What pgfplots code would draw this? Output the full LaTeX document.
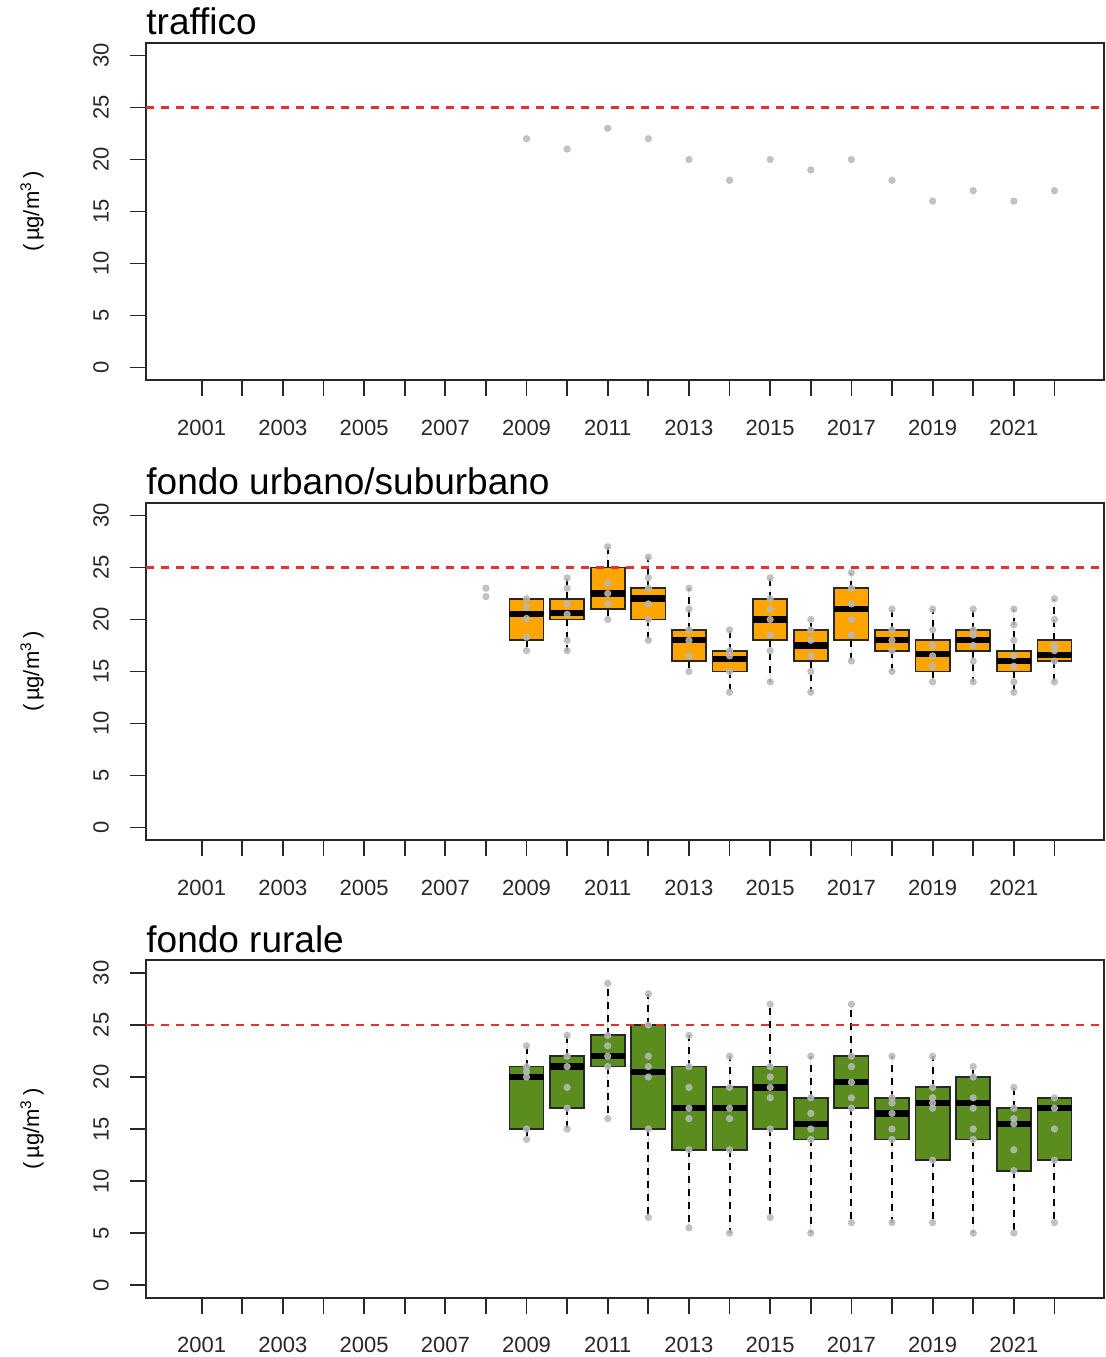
\documentclass[border=0pt]{standalone}
\usepackage{fontspec}
\setmainfont{Liberation Sans}
\usepackage{pgfplots}
\pgfplotsset{compat=1.18}
\usepgfplotslibrary{statistics}
\definecolor{boxorange}{HTML}{FFA500}
\definecolor{boxgreen}{RGB}{90,140,30}
\definecolor{ptgrey}{RGB}{185,185,185}
\definecolor{frame}{RGB}{40,40,40}
\definecolor{limred}{RGB}{225,50,50}
% x positions: 1 = 2001, 2 = 2002, ..., 22 = 2022
\pgfplotsset{
 panel/.style={
  scale only axis, width=479pt, height=168.5pt,
  xmin=-0.37, xmax=23.22, ymin=-1.2, ymax=31.2,
  axis line style={frame, line width=1pt},
  xtick={1,...,22},
  xticklabels={2001,,2003,,2005,,2007,,2009,,2011,,2013,,2015,,2017,,2019,,2021,},
  ytick={0,5,...,30},
  tick pos=left,
  tick align=outside, major tick length=8pt,
  tick style={frame, line width=0.9pt},
  tick label style={font=\fontsize{11}{13}\selectfont, text=frame},
  yticklabel style={rotate=90, anchor=south},
  yticklabel shift=7pt,
  xticklabel shift=8.5pt,
  /pgf/number format/assume math mode=true,
  title style={at={(0,1)}, anchor=base west, yshift=-2pt, inner sep=0pt, font=\fontsize{18.5}{22}\selectfont},
  ylabel style={at={(axis description cs:-0.119,0.5)}, anchor=center, font=\fontsize{11}{13}\selectfont},
  ylabel={(\,µg/m\textsuperscript{3}\,)},
  boxplot/draw direction=y,
  boxplot/box extend=0.84,
  boxplot/whisker extend=0,
  boxplot/every whisker/.style={black, line width=1pt, dash pattern=on 3.5pt off 3pt},
  boxplot/every median/.style={black, line width=3.2pt},
 },
 pts/.style={only marks, mark=*, mark size=1.6pt, color=ptgrey, fill opacity=0.85, draw opacity=0.85},
}
\newcommand{\bx}[7]{\addplot[draw=frame, line width=0.9pt, fill=#7,
  boxplot prepared={draw position=#1, lower whisker=#2, lower quartile=#3,
  median=#4, upper quartile=#5, upper whisker=#6}] coordinates {};}
\newcommand{\limline}{\addplot[limred, line width=1.1pt, dash pattern=on 4pt off 3.5pt] coordinates {(-0.37,25) (23.22,25)};}
\begin{document}
\begin{tikzpicture}
% ---------- traffico
\begin{axis}[panel, at={(73pt,488.5pt)}, anchor=south west, title={traffico}]
\addplot[pts] coordinates {
(9,22) (10,21) (11,23) (12,22) (13,20) (14,18) (15,20)
(16,19) (17,20) (18,18) (19,16) (20,17) (21,16) (22,17)};
\limline
\end{axis}
% ---------- fondo urbano/suburbano
\begin{axis}[panel, at={(73pt,258.5pt)}, anchor=south west, title={fondo urbano/suburbano}]
\bx{9}{17}{18}{20.5}{22}{22}{boxorange}
\bx{10}{17}{20}{20.6}{22}{24}{boxorange}
\bx{11}{20}{21}{22.5}{25}{27}{boxorange}
\bx{12}{18}{20}{22}{23}{26}{boxorange}
\bx{13}{15}{16}{18}{19}{23}{boxorange}
\bx{14}{13}{15}{16.2}{17}{19}{boxorange}
\bx{15}{14}{18}{20}{22}{24}{boxorange}
\bx{16}{13}{16}{17.5}{19}{20}{boxorange}
\bx{17}{16}{18}{21}{23}{24.5}{boxorange}
\bx{18}{15}{17}{18}{19}{21}{boxorange}
\bx{19}{14}{15}{16.7}{18}{21}{boxorange}
\bx{20}{14}{17}{18}{19}{21}{boxorange}
\bx{21}{13}{15}{16}{17}{21}{boxorange}
\bx{22}{14}{16}{16.6}{18}{22}{boxorange}
\addplot[pts] coordinates {
(8,23) (8,22.2)
(9,17) (9,18.3) (9,20.1) (9,21.2) (9,22)
(10,17) (10,18) (10,20.5) (10,21.5) (10,23) (10,24)
(11,20) (11,21.5) (11,22.5) (11,23.5) (11,27)
(12,18) (12,20) (12,21.5) (12,23) (12,24) (12,26)
(13,15) (13,16.5) (13,18) (13,19) (13,21) (13,23)
(14,13) (14,15) (14,16.5) (14,17) (14,19)
(15,14) (15,17) (15,18.5) (15,20) (15,21) (15,22) (15,24)
(16,13) (16,15) (16,16.5) (16,18) (16,19) (16,20)
(17,16) (17,18.5) (17,20) (17,21.5) (17,23) (17,24.5)
(18,15) (18,17) (18,18) (18,19) (18,21)
(19,14) (19,15.5) (19,16.5) (19,17.5) (19,19) (19,21)
(20,14) (20,16) (20,17.5) (20,18.5) (20,19) (20,21)
(21,13) (21,14) (21,15.5) (21,16.5) (21,18) (21,19.5) (21,21)
(22,14) (22,16) (22,17) (22,17.5) (22,20) (22,22)};
\limline
\end{axis}
% ---------- fondo rurale
\begin{axis}[panel, at={(73pt,29.75pt)}, anchor=south west, title={fondo rurale}]
\bx{9}{14}{15}{20}{21}{23}{boxgreen}
\bx{10}{15}{17}{21}{22}{24}{boxgreen}
\bx{11}{16}{21}{22}{24}{29}{boxgreen}
\bx{12}{6.5}{15}{20.5}{25}{28}{boxgreen}
\bx{13}{5.5}{13}{17}{21}{24}{boxgreen}
\bx{14}{5}{13}{17}{19}{22}{boxgreen}
\bx{15}{6.5}{15}{19}{21}{27}{boxgreen}
\bx{16}{5}{14}{15.5}{18}{22}{boxgreen}
\bx{17}{6}{17}{19.5}{22}{27}{boxgreen}
\bx{18}{6}{14}{16.5}{18}{22}{boxgreen}
\bx{19}{6}{12}{17.5}{19}{22}{boxgreen}
\bx{20}{5}{14}{17.5}{20}{21}{boxgreen}
\bx{21}{5}{11}{15.5}{17}{19}{boxgreen}
\bx{22}{6}{12}{17}{18}{18}{boxgreen}
\addplot[pts] coordinates {
(9,14) (9,15) (9,20) (9,20.5) (9,21) (9,23)
(10,15) (10,17) (10,19) (10,21) (10,22) (10,24)
(11,16) (11,21) (11,22) (11,23) (11,24) (11,29)
(12,6.5) (12,15) (12,20) (12,21) (12,22) (12,25) (12,28)
(13,5.5) (13,13) (13,16) (13,17) (13,19) (13,21) (13,24)
(14,5) (14,13) (14,16) (14,17) (14,19) (14,22)
(15,6.5) (15,15) (15,18) (15,19) (15,20) (15,21) (15,27)
(16,5) (16,14) (16,15) (16,16.5) (16,18) (16,22)
(17,6) (17,17) (17,18) (17,19.5) (17,21) (17,22) (17,27)
(18,6) (18,14) (18,15) (18,16.5) (18,17.5) (18,18) (18,22)
(19,6) (19,12) (19,17) (19,17.5) (19,18) (19,19) (19,22)
(20,5) (20,14) (20,15) (20,17) (20,18) (20,20) (20,21)
(21,5) (21,11) (21,13) (21,15.5) (21,16) (21,17) (21,19)
(22,6) (22,12) (22,15) (22,17) (22,18)};
\limline
\end{axis}
\pgfresetboundingbox
\path[use as bounding box] (0,0) rectangle (553pt,678.5pt);
\end{tikzpicture}
\end{document}
